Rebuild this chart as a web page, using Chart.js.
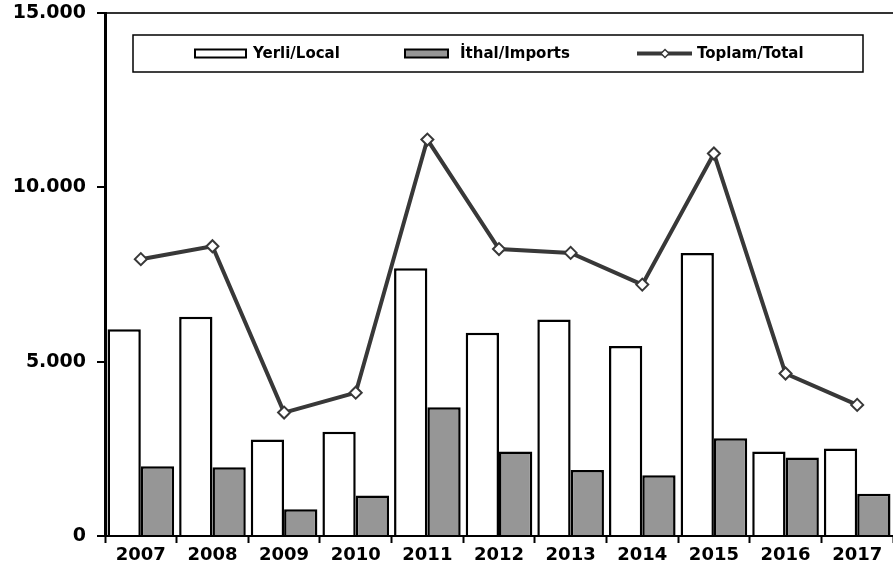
<!DOCTYPE html>
<html>
<head>
<meta charset="utf-8">
<script src="https://cdn.jsdelivr.net/npm/chart.js@4/dist/chart.umd.min.js"></script>
<style>
  html, body { margin: 0; padding: 0; background: #fff; overflow: hidden; }
  canvas { display: block; }
</style>
</head>
<body>
<canvas id="chart" width="893" height="580"></canvas>
<script>
'use strict';

// ── Data ──────────────────────────────────────────────────────────────────────
const years        = ['2007', '2008', '2009', '2010', '2011', '2012', '2013', '2014', '2015', '2016', '2017'];
const localValues  = [5930, 6290, 2770, 2990, 7680, 5830, 6210, 5450, 8120, 2420, 2510];
const importValues = [2000, 1970, 770, 1160, 3690, 2420, 1890, 1740, 2800, 2250, 1210];
const totalValues  = [7940, 8310, 3540, 4110, 11370, 8230, 8120, 7210, 10970, 4660, 3760];
const seriesNames  = ['Yerli/Local', 'İthal/Imports', 'Toplam/Total'];
const yMax  = 15000;
const yStep = 5000;

// ── Helpers ───────────────────────────────────────────────────────────────────
function dotThousands(v) {
  return String(v).replace(/\B(?=(\d{3})+(?!\d))/g, '.');
}

const FONT = '"DejaVu Sans", Verdana, sans-serif';
const LINE_COLOR = '#383838';
const GRAY = '#969696';

// ── Legend drawn inside the plot, in a box ────────────────────────────────────
const boxLegend = {
  id: 'boxLegend',
  afterDatasetsDraw(chart) {
    const ctx = chart.ctx;
    const a = chart.chartArea;
    const x0 = a.left + 28, y0 = a.top + 22, w = 730, h = 37;
    const cy = y0 + h / 2;

    ctx.save();
    ctx.fillStyle = '#fff';
    ctx.fillRect(x0, y0, w, h);
    ctx.lineWidth = 1.5;
    ctx.strokeStyle = '#000';
    ctx.strokeRect(x0, y0, w, h);

    ctx.font = 'bold 15px ' + FONT;
    ctx.textBaseline = 'middle';
    ctx.textAlign = 'left';

    // Yerli/Local
    ctx.lineWidth = 2;
    ctx.fillStyle = '#fff';
    ctx.fillRect(a.left + 90, cy - 4, 51, 8);
    ctx.strokeRect(a.left + 90, cy - 4, 51, 8);
    ctx.fillStyle = '#000';
    ctx.fillText(seriesNames[0], a.left + 148, cy + 1);

    // İthal/Imports
    ctx.fillStyle = GRAY;
    ctx.fillRect(a.left + 300, cy - 4, 43, 8);
    ctx.strokeRect(a.left + 300, cy - 4, 43, 8);
    ctx.fillStyle = '#000';
    ctx.fillText(seriesNames[1], a.left + 355, cy + 1);

    // Toplam/Total
    ctx.strokeStyle = LINE_COLOR;
    ctx.lineWidth = 4;
    ctx.beginPath();
    ctx.moveTo(a.left + 532, cy);
    ctx.lineTo(a.left + 587, cy);
    ctx.stroke();
    ctx.lineWidth = 1.5;
    ctx.fillStyle = '#fff';
    ctx.beginPath();
    const dx = a.left + 560, r = 4;
    ctx.moveTo(dx, cy - r);
    ctx.lineTo(dx + r, cy);
    ctx.lineTo(dx, cy + r);
    ctx.lineTo(dx - r, cy);
    ctx.closePath();
    ctx.fill();
    ctx.stroke();
    ctx.fillStyle = '#000';
    ctx.fillText(seriesNames[2], a.left + 592, cy + 1);
    ctx.restore();
  }
};

// ── Chart ─────────────────────────────────────────────────────────────────────
new Chart(document.getElementById('chart'), {
  type: 'bar',
  data: {
    labels: years,
    datasets: [
      {
        type: 'line',
        label: seriesNames[2],
        data: totalValues,
        borderColor: LINE_COLOR,
        borderWidth: 4,
        pointStyle: 'rectRot',
        pointRadius: 6,
        pointBorderWidth: 2,
        pointBackgroundColor: '#fff',
        pointBorderColor: LINE_COLOR,
        tension: 0,
        order: 0,
      },
      {
        label: seriesNames[0],
        data: localValues,
        backgroundColor: '#fff',
        borderColor: '#000',
        borderWidth: 2.5,
        categoryPercentage: 0.93,
        barPercentage: 1,
        order: 1,
      },
      {
        label: seriesNames[1],
        data: importValues,
        backgroundColor: GRAY,
        borderColor: '#000',
        borderWidth: 2.5,
        categoryPercentage: 0.93,
        barPercentage: 1,
        order: 1,
      },
    ],
  },
  options: {
    responsive: false,
    animation: false,
    layout: { autoPadding: false, padding: { top: 13, right: 0, bottom: 0, left: 0 } },
    plugins: {
      legend: { display: false },
      tooltip: { enabled: false },
    },
    scales: {
      x: {
        offset: true,
        border: { color: '#000', width: 2 },
        grid: {
          offset: true,
          drawOnChartArea: false,
          drawTicks: true,
          tickLength: 7,
          tickColor: '#000',
          tickWidth: 2,
        },
        ticks: {
          color: '#000',
          padding: 2,
          maxRotation: 0,
          font: { family: FONT, size: 18, weight: 'bold' },
        },
        afterFit(scale) {
          scale.height = 44;
          scale.paddingLeft = 0;
          scale.paddingRight = 0;
        },
      },
      y: {
        min: 0,
        max: yMax,
        border: { color: '#000', width: 3 },
        grid: {
          color: c => (c.tick && c.tick.value === yMax ? '#333' : 'rgba(0,0,0,0)'),
          lineWidth: 2,
          drawTicks: true,
          tickLength: 8,
          tickColor: '#000',
          tickWidth: 2,
        },
        ticks: {
          stepSize: yStep,
          color: '#000',
          padding: 11,
          font: { family: FONT, size: 19, weight: 'bold' },
          callback: v => dotThousands(v),
        },
        afterFit(scale) {
          scale.width = 105;
          scale.paddingTop = 0;
          scale.paddingBottom = 0;
        },
      },
    },
  },
  plugins: [boxLegend],
});
</script>
</body>
</html>
